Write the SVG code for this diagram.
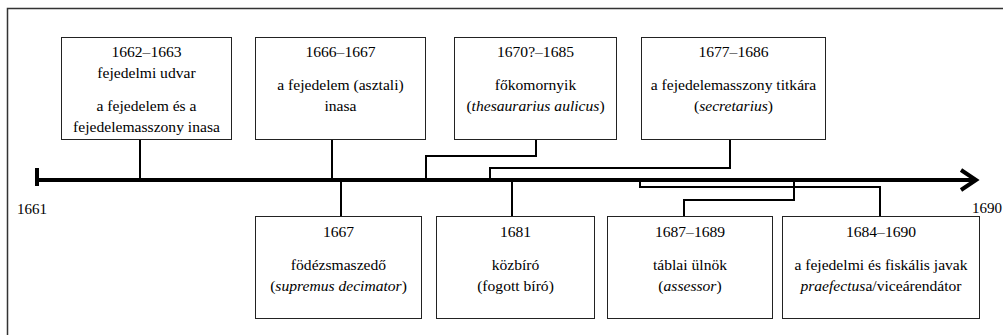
<svg xmlns="http://www.w3.org/2000/svg" width="1003" height="335" viewBox="0 0 1003 335">
<style>
.frame{fill:none;stroke:#333;stroke-width:1.5}
.box{fill:#fff;stroke:#222;stroke-width:1}
.t{font-family:"Liberation Serif","Times New Roman",serif;font-size:15.6px;fill:#000;text-anchor:middle}
.lbl{font-family:"Liberation Serif","Times New Roman",serif;font-size:15px;fill:#000}
.c{fill:none;stroke:#000;stroke-width:2}
.axis{fill:none;stroke:#000;stroke-width:4}
</style>
<rect width="1003" height="335" fill="#fff"/>
<path class="frame" d="M7.5,340 V8.5 H1010"/>
<g id="axis">
<line class="axis" x1="37" y1="180" x2="974" y2="180"/>
<line class="axis" x1="37" y1="168" x2="37" y2="186"/>
<polyline class="axis" points="961,170 976,180 961,190" stroke-linejoin="miter"/>
<text class="lbl" x="17" y="214">1661</text>
<text class="lbl" x="972" y="213">1690</text>
</g>
<g id="connectors">
<polyline class="c" points="140,139 140,180"/>
<polyline class="c" points="332,139 332,180"/>
<polyline class="c" points="536,139 536,156 426,156 426,180"/>
<polyline class="c" points="730,139 730,168 490,168 490,180"/>
<polyline class="c" points="341,180 341,216"/>
<polyline class="c" points="512,180 512,216"/>
<polyline class="c" points="684,216 684,200 794,200 794,180"/>
<polyline class="c" points="880,216 880,187 640,187 640,180"/>
</g>
<g id="n1">
<rect class="box" x="61.5" y="37.5" width="170" height="102"/>
<text class="t" x="146.5" y="57">1662–1663</text>
<text class="t" x="146.5" y="78">fejedelmi udvar</text>
<text class="t" x="146.5" y="111">a fejedelem és a</text>
<text class="t" x="146.5" y="132">fejedelemasszony inasa</text>
</g>
<g id="n2">
<rect class="box" x="255.5" y="37.5" width="170" height="102"/>
<text class="t" x="340.5" y="57">1666–1667</text>
<text class="t" x="340.5" y="90">a fejedelem (asztali)</text>
<text class="t" x="340.5" y="111">inasa</text>
</g>
<g id="n3">
<rect class="box" x="454.5" y="37.5" width="162" height="102"/>
<text class="t" x="535.5" y="57">1670?–1685</text>
<text class="t" x="535.5" y="90">főkomornyik</text>
<text class="t" x="535.5" y="111">(<tspan font-style="italic">thesaurarius aulicus</tspan>)</text>
</g>
<g id="n4">
<rect class="box" x="641.5" y="37.5" width="184" height="102"/>
<text class="t" x="733.5" y="57">1677–1686</text>
<text class="t" x="733.5" y="90">a fejedelemasszony titkára</text>
<text class="t" x="733.5" y="111">(<tspan font-style="italic">secretarius</tspan>)</text>
</g>
<g id="n5">
<rect class="box" x="255.5" y="216.5" width="166" height="102"/>
<text class="t" x="338.5" y="237">1667</text>
<text class="t" x="338.5" y="270">födézsmaszedő</text>
<text class="t" x="338.5" y="291">(<tspan font-style="italic">supremus decimator</tspan>)</text>
</g>
<g id="n6">
<rect class="box" x="436.5" y="216.5" width="158" height="102"/>
<text class="t" x="515.5" y="237">1681</text>
<text class="t" x="515.5" y="270">közbíró</text>
<text class="t" x="515.5" y="291">(fogott bíró)</text>
</g>
<g id="n7">
<rect class="box" x="607.5" y="216.5" width="165" height="102"/>
<text class="t" x="690" y="237">1687–1689</text>
<text class="t" x="690" y="270">táblai ülnök</text>
<text class="t" x="690" y="291">(<tspan font-style="italic">assessor</tspan>)</text>
</g>
<g id="n8">
<rect class="box" x="782.5" y="216.5" width="197" height="102"/>
<text class="t" x="881" y="237">1684–1690</text>
<text class="t" x="881" y="270">a fejedelmi és fiskális javak</text>
<text class="t" x="881" y="291"><tspan font-style="italic">praefectus</tspan>a/viceárendátor</text>
</g>
</svg>
